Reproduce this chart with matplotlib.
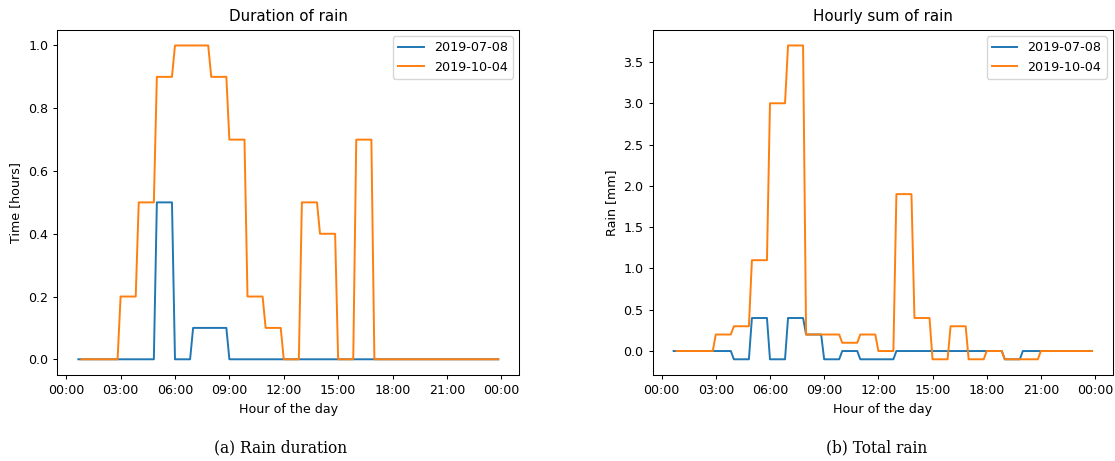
import numpy as np
import pandas as pd
import matplotlib
matplotlib.use("Agg")
import matplotlib.pyplot as plt
import matplotlib.dates as mdates

# ---- data (hourly values, hours 00..23) ----
hours = list(range(24))
series_labels = ["2019-07-08", "2019-10-04"]

duration_0708 = [0, 0, 0, 0, 0, 0.5, 0, 0.1, 0.1, 0, 0, 0,
                 0, 0, 0, 0, 0, 0, 0, 0, 0, 0, 0, 0]
duration_1004 = [0, 0, 0, 0.2, 0.5, 0.9, 1.0, 1.0, 0.9, 0.7, 0.2, 0.1,
                 0, 0.5, 0.4, 0, 0.7, 0, 0, 0, 0, 0, 0, 0]

rain_0708 = [0, 0, 0, 0, -0.1, 0.4, -0.1, 0.4, 0.2, -0.1, 0, -0.1,
             -0.1, 0, 0, 0, 0, 0, 0, -0.1, 0, 0, 0, 0]
rain_1004 = [0, 0, 0, 0.2, 0.3, 1.1, 3.0, 3.7, 0.2, 0.2, 0.1, 0.2,
             0, 1.9, 0.4, -0.1, 0.3, -0.1, 0, -0.1, -0.1, 0, 0, 0]

# first 10-minute sample of each day's record
start_0708 = "00:40"
start_1004 = "00:50"

titles = ["Duration of rain", "Hourly sum of rain"]
ylabels = ["Time [hours]", "Rain [mm]"]
xlabel = "Hour of the day"
captions = ["(a) Rain duration", "(b) Total rain"]


def to_series(hourly, start):
    # each hourly value is held over the six 10-minute samples of that hour
    idx = pd.date_range("1900-01-01 00:00", periods=len(hourly) * 6, freq="10min")
    s = pd.Series(np.repeat(hourly, 6), index=idx)
    return s[s.index >= pd.Timestamp("1900-01-01 " + start)]


plt.rcParams.update({
    "font.family": ["DejaVu Sans"],
    "font.size": 9.1,
    "axes.titlesize": 10.9,
    "axes.labelsize": 9.1,
    "xtick.labelsize": 9.1,
    "ytick.labelsize": 9.1,
    "legend.fontsize": 9.2,
    "lines.linewidth": 1.4,
    "axes.linewidth": 0.75,
    "xtick.major.size": 3.15,
    "ytick.major.size": 3.15,
    "xtick.major.width": 0.75,
    "ytick.major.width": 0.75,
})

fig = plt.figure(figsize=(11.15, 4.61), dpi=100)
ax1 = fig.add_axes([0.0514, 0.1866, 0.4143, 0.7488])
ax2 = fig.add_axes([0.5854, 0.1866, 0.4128, 0.7488])

data = [
    (ax1, duration_0708, duration_1004),
    (ax2, rain_0708, rain_1004),
]

for i, (ax, a, b) in enumerate(data):
    sa = to_series(a, start_0708)
    sb = to_series(b, start_1004)
    ax.plot(sa.index, sa.values, color="#1f77b4", label=series_labels[0])
    ax.plot(sb.index, sb.values, color="#ff7f0e", label=series_labels[1])
    ax.set_title(titles[i])
    ax.set_ylabel(ylabels[i])
    ax.set_xlabel(xlabel)
    ax.xaxis.set_major_locator(mdates.HourLocator(byhour=range(0, 24, 3)))
    ax.xaxis.set_major_formatter(mdates.DateFormatter("%H:%M"))
    ax.legend(loc="upper right")

fig.text(0.252, 0.0195, captions[0], ha="center", va="baseline",
         family=["DejaVu Serif"], fontsize=11.2)
fig.text(0.786, 0.0195, captions[1], ha="center", va="baseline",
         family=["DejaVu Serif"], fontsize=11.2)

fig.savefig("out.png", dpi=100)
